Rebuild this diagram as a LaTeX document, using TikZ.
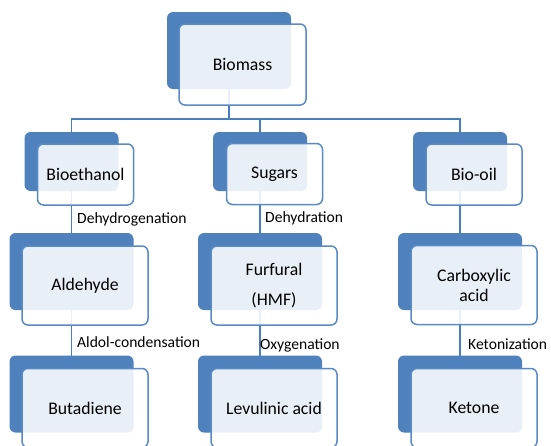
\documentclass[tikz,border=0pt]{standalone}
\usepackage{fontspec}
\setmainfont{Carlito}
\usetikzlibrary{backgrounds}
\definecolor{accent}{HTML}{4F81BD}
\definecolor{edge}{HTML}{5A8AC6}
\definecolor{linec}{HTML}{4A7EBB}
\tikzset{
  backbig/.style={rectangle, rounded corners=6pt, fill=accent, minimum width=124pt, minimum height=77pt, inner sep=0pt},
  backsmall/.style={rectangle, rounded corners=6pt, fill=accent, minimum width=94pt, minimum height=59pt, inner sep=0pt},
  frontbig/.style={rectangle, rounded corners=6pt, draw=edge, line width=1.5pt, fill=white, fill opacity=0.88, text opacity=1, minimum width=126pt, minimum height=79pt, inner sep=0pt, align=center, font=\fontsize{17.7}{20}\selectfont},
  frontsmall/.style={rectangle, rounded corners=6pt, draw=edge, line width=1.5pt, fill=white, fill opacity=0.88, text opacity=1, minimum width=96pt, minimum height=61pt, inner sep=0pt, align=center, font=\fontsize{17.7}{20}\selectfont},
  conn/.style={draw=linec, line width=1.6pt},
  lbl/.style={anchor=west, inner sep=0pt, font=\fontsize{15.6}{18}\selectfont}
}
\begin{document}
\begin{tikzpicture}[x=1pt,y=-1pt]
\useasboundingbox (0,0) rectangle (551,445);
\clip (0,0) rectangle (551,445);
\coordinate (bus) at (0,119);
% back boxes
\node[backbig] (bmB) at (229,50.5) {};
\node[backsmall] (ethB) at (71.5,161.5) {};
\node[backsmall] (sugB) at (260,161.5) {};
\node[backsmall] (oilB) at (460,161.5) {};
\node[backbig] (aldB) at (71.5,271.5) {};
\node[backbig] (furB) at (260,271.5) {};
\node[backbig] (carB) at (460,271.5) {};
\node[backbig] (butB) at (71.5,394) {};
\node[backbig] (levB) at (260,394) {};
\node[backbig] (ketB) at (460,394) {};
% front boxes
\node[frontbig, minimum height=81pt, minimum width=127pt] (bm) at (242.5,64.5) {Biomass};
\node[frontsmall] (eth) at (85.5,174.5) {Bioethanol};
\node[frontsmall] (sug) at (274.5,174) {Sugars};
\node[frontsmall] (oil) at (474,174.5) {Bio-oil};
\node[frontbig] (ald) at (85,285.5) {Aldehyde};
\node[frontbig] (fur) at (274,285.5) {Furfural\\[10pt](HMF)};
\node[frontbig] (car) at (474,285) {Carboxylic\\acid};
\node[frontbig] (but) at (85,408) {Butadiene};
\node[frontbig] (lev) at (274,408) {Levulinic acid};
\node[frontbig] (ket) at (474,408) {Ketone};
% connectors behind
\begin{pgfonlayer}{background}
\draw[conn] (bmB.center) -- (bmB.center |- bus) -| (ethB.center);
\draw[conn] (bmB.center |- bus) -| (sugB.center);
\draw[conn] (bmB.center |- bus) -| (oilB.center);
\draw[conn] (ethB.center) -- (aldB.center);
\draw[conn] (sugB.center) -- (furB.center);
\draw[conn] (oilB.center) -- (carB.center);
\draw[conn] (aldB.center) -- (butB.center);
\draw[conn] (furB.center) -- (levB.center);
\draw[conn] (carB.center) -- (ketB.center);
\end{pgfonlayer}
% labels
\node[lbl] (l1) at (77,219) {Dehydrogenation};
\node[lbl] (l2) at (265,218) {Dehydration};
\node[lbl] (l3) at (77,342) {Aldol-condensation};
\node[lbl] (l4) at (260,345) {Oxygenation};
\node[lbl] (l5) at (468,344) {Ketonization};
\end{tikzpicture}
\end{document}
